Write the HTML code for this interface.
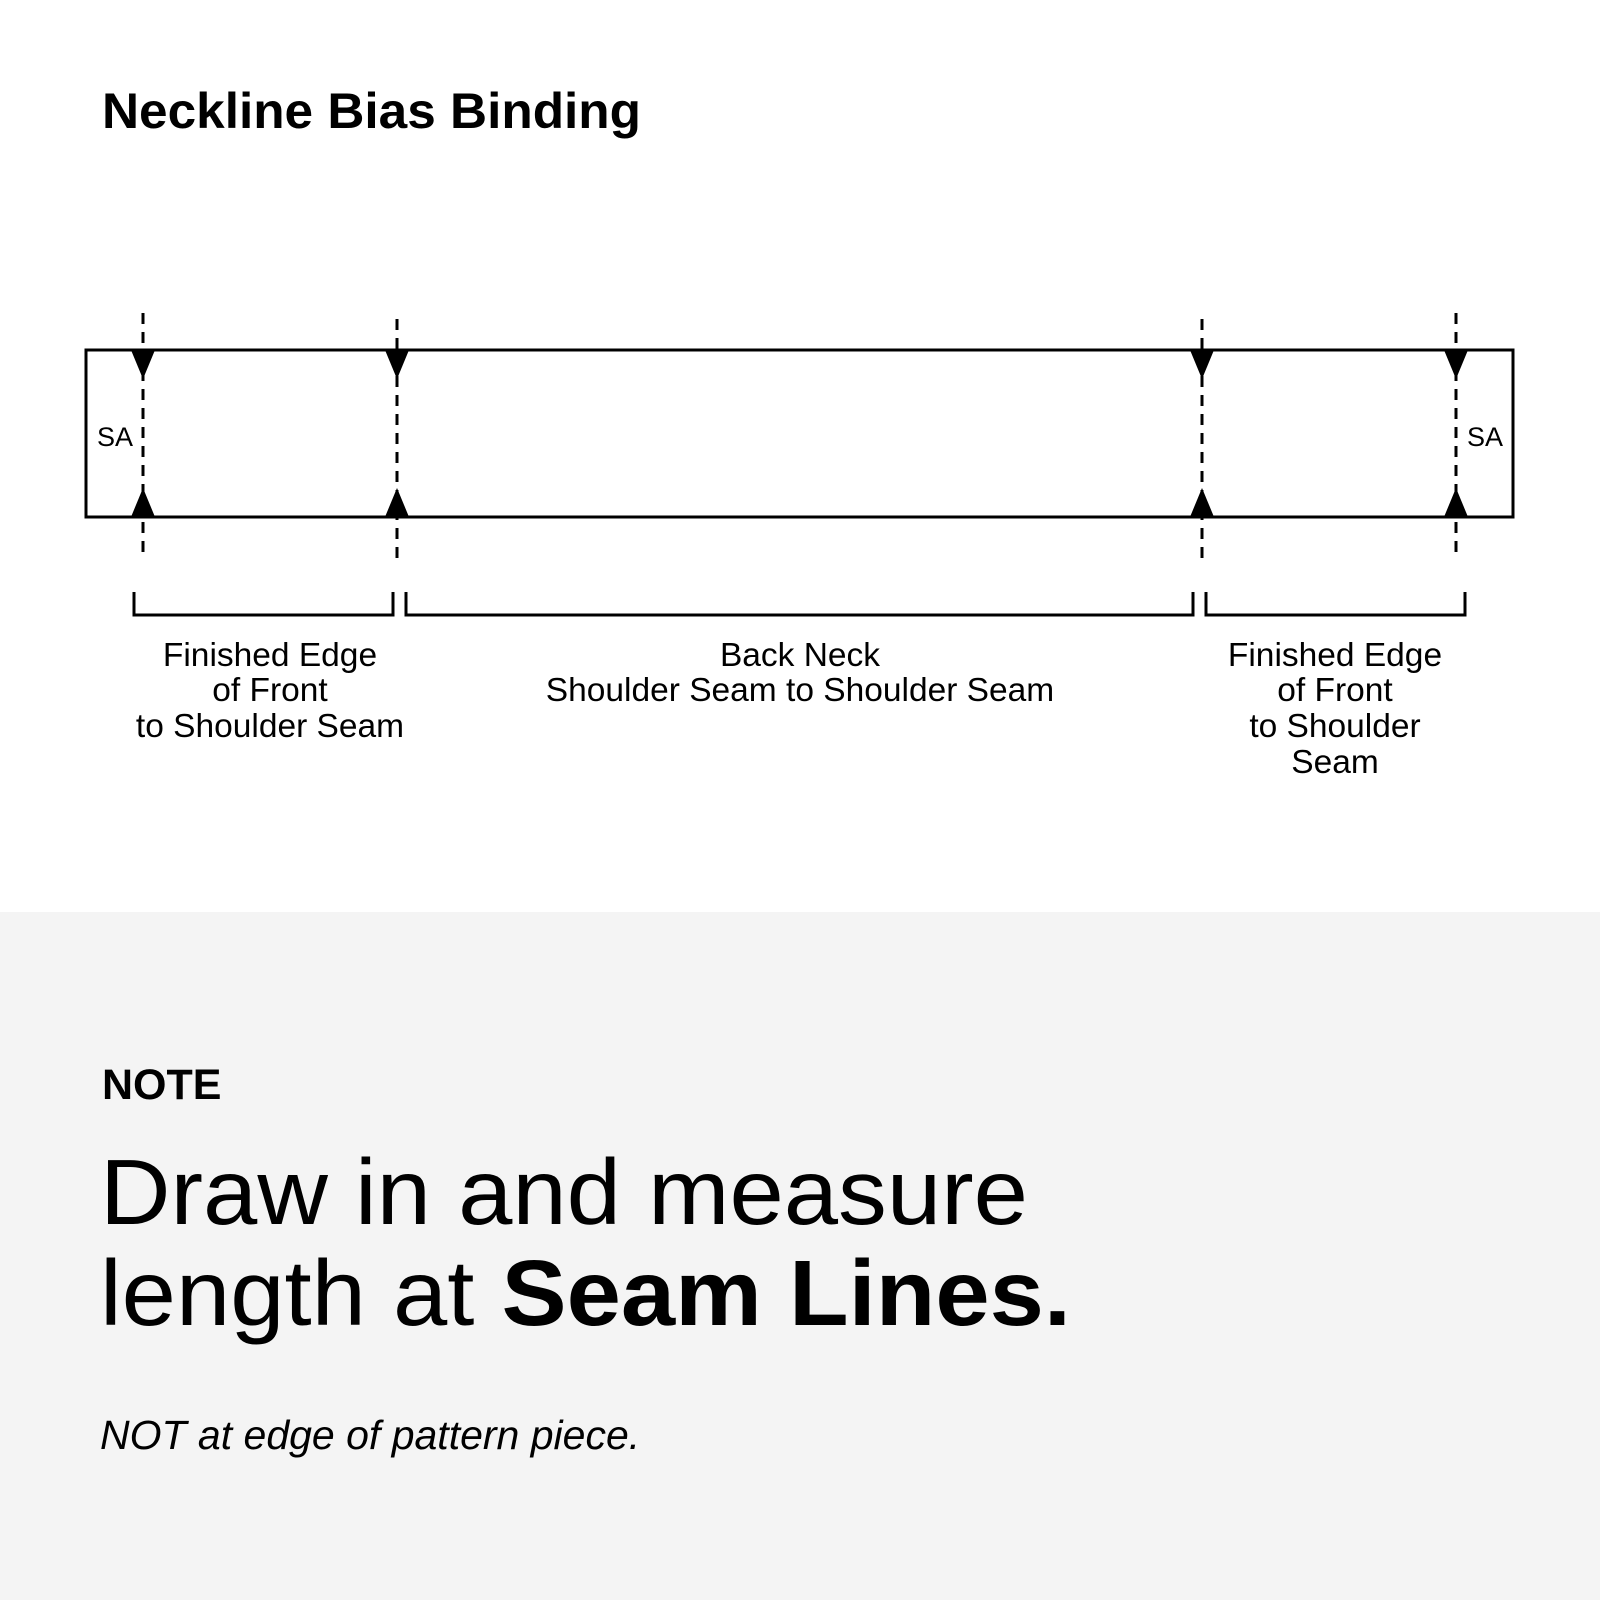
<!DOCTYPE html>
<html><head><style>html,body{margin:0;padding:0;background:#fff}svg{display:block}</style></head>
<body>
<svg width="1600" height="1600" viewBox="0 0 1600 1600" xmlns="http://www.w3.org/2000/svg" font-family="Liberation Sans, Arial, sans-serif">
<rect x="0" y="0" width="1600" height="912" fill="#fff"/>
<rect x="0" y="912" width="1600" height="688" fill="#f4f4f4"/>
<text x="102" y="128" font-size="50" font-weight="bold" textLength="539" lengthAdjust="spacingAndGlyphs">Neckline Bias Binding</text>
<rect x="86" y="350" width="1427" height="167" fill="none" stroke="#000" stroke-width="3"/>
<g stroke="#000" stroke-width="3" stroke-dasharray="11 8">
<line x1="143" y1="313" x2="143" y2="557"/>
<line x1="397" y1="319" x2="397" y2="565"/>
<line x1="1202" y1="319" x2="1202" y2="565"/>
<line x1="1456" y1="313" x2="1456" y2="557"/>
</g>
<g fill="#000">
<polygon points="131,350 155,350 143,379"/><polygon points="131,517 155,517 143,488"/>
<polygon points="385,350 409,350 397,379"/><polygon points="385,517 409,517 397,488"/>
<polygon points="1190,350 1214,350 1202,379"/><polygon points="1190,517 1214,517 1202,488"/>
<polygon points="1444,350 1468,350 1456,379"/><polygon points="1444,517 1468,517 1456,488"/>
</g>
<text x="97" y="446" font-size="27">SA</text>
<text x="1467" y="446" font-size="27">SA</text>
<g fill="none" stroke="#000" stroke-width="3">
<polyline points="134,592 134,615 393,615 393,592"/>
<polyline points="406,592 406,615 1193,615 1193,592"/>
<polyline points="1206,592 1206,615 1465,615 1465,592"/>
</g>
<g font-size="33.5" text-anchor="middle">
<text x="270" y="666">Finished Edge</text>
<text x="270" y="701">of Front</text>
<text x="270" y="737">to Shoulder Seam</text>
<text x="800" y="666">Back Neck</text>
<text x="800" y="701">Shoulder Seam to Shoulder Seam</text>
<text x="1335" y="666">Finished Edge</text>
<text x="1335" y="701">of Front</text>
<text x="1335" y="737">to Shoulder</text>
<text x="1335" y="773">Seam</text>
</g>
<text x="102" y="1099" font-size="43" font-weight="bold">NOTE</text>
<text x="100" y="1224" font-size="93" textLength="928" lengthAdjust="spacingAndGlyphs">Draw in and measure</text>
<text x="100" y="1325" font-size="93" textLength="971" lengthAdjust="spacingAndGlyphs">length at <tspan font-weight="bold">Seam Lines.</tspan></text>
<text x="100" y="1449" font-size="41" font-style="italic">NOT at edge of pattern piece.</text>
</svg>
</body></html>
